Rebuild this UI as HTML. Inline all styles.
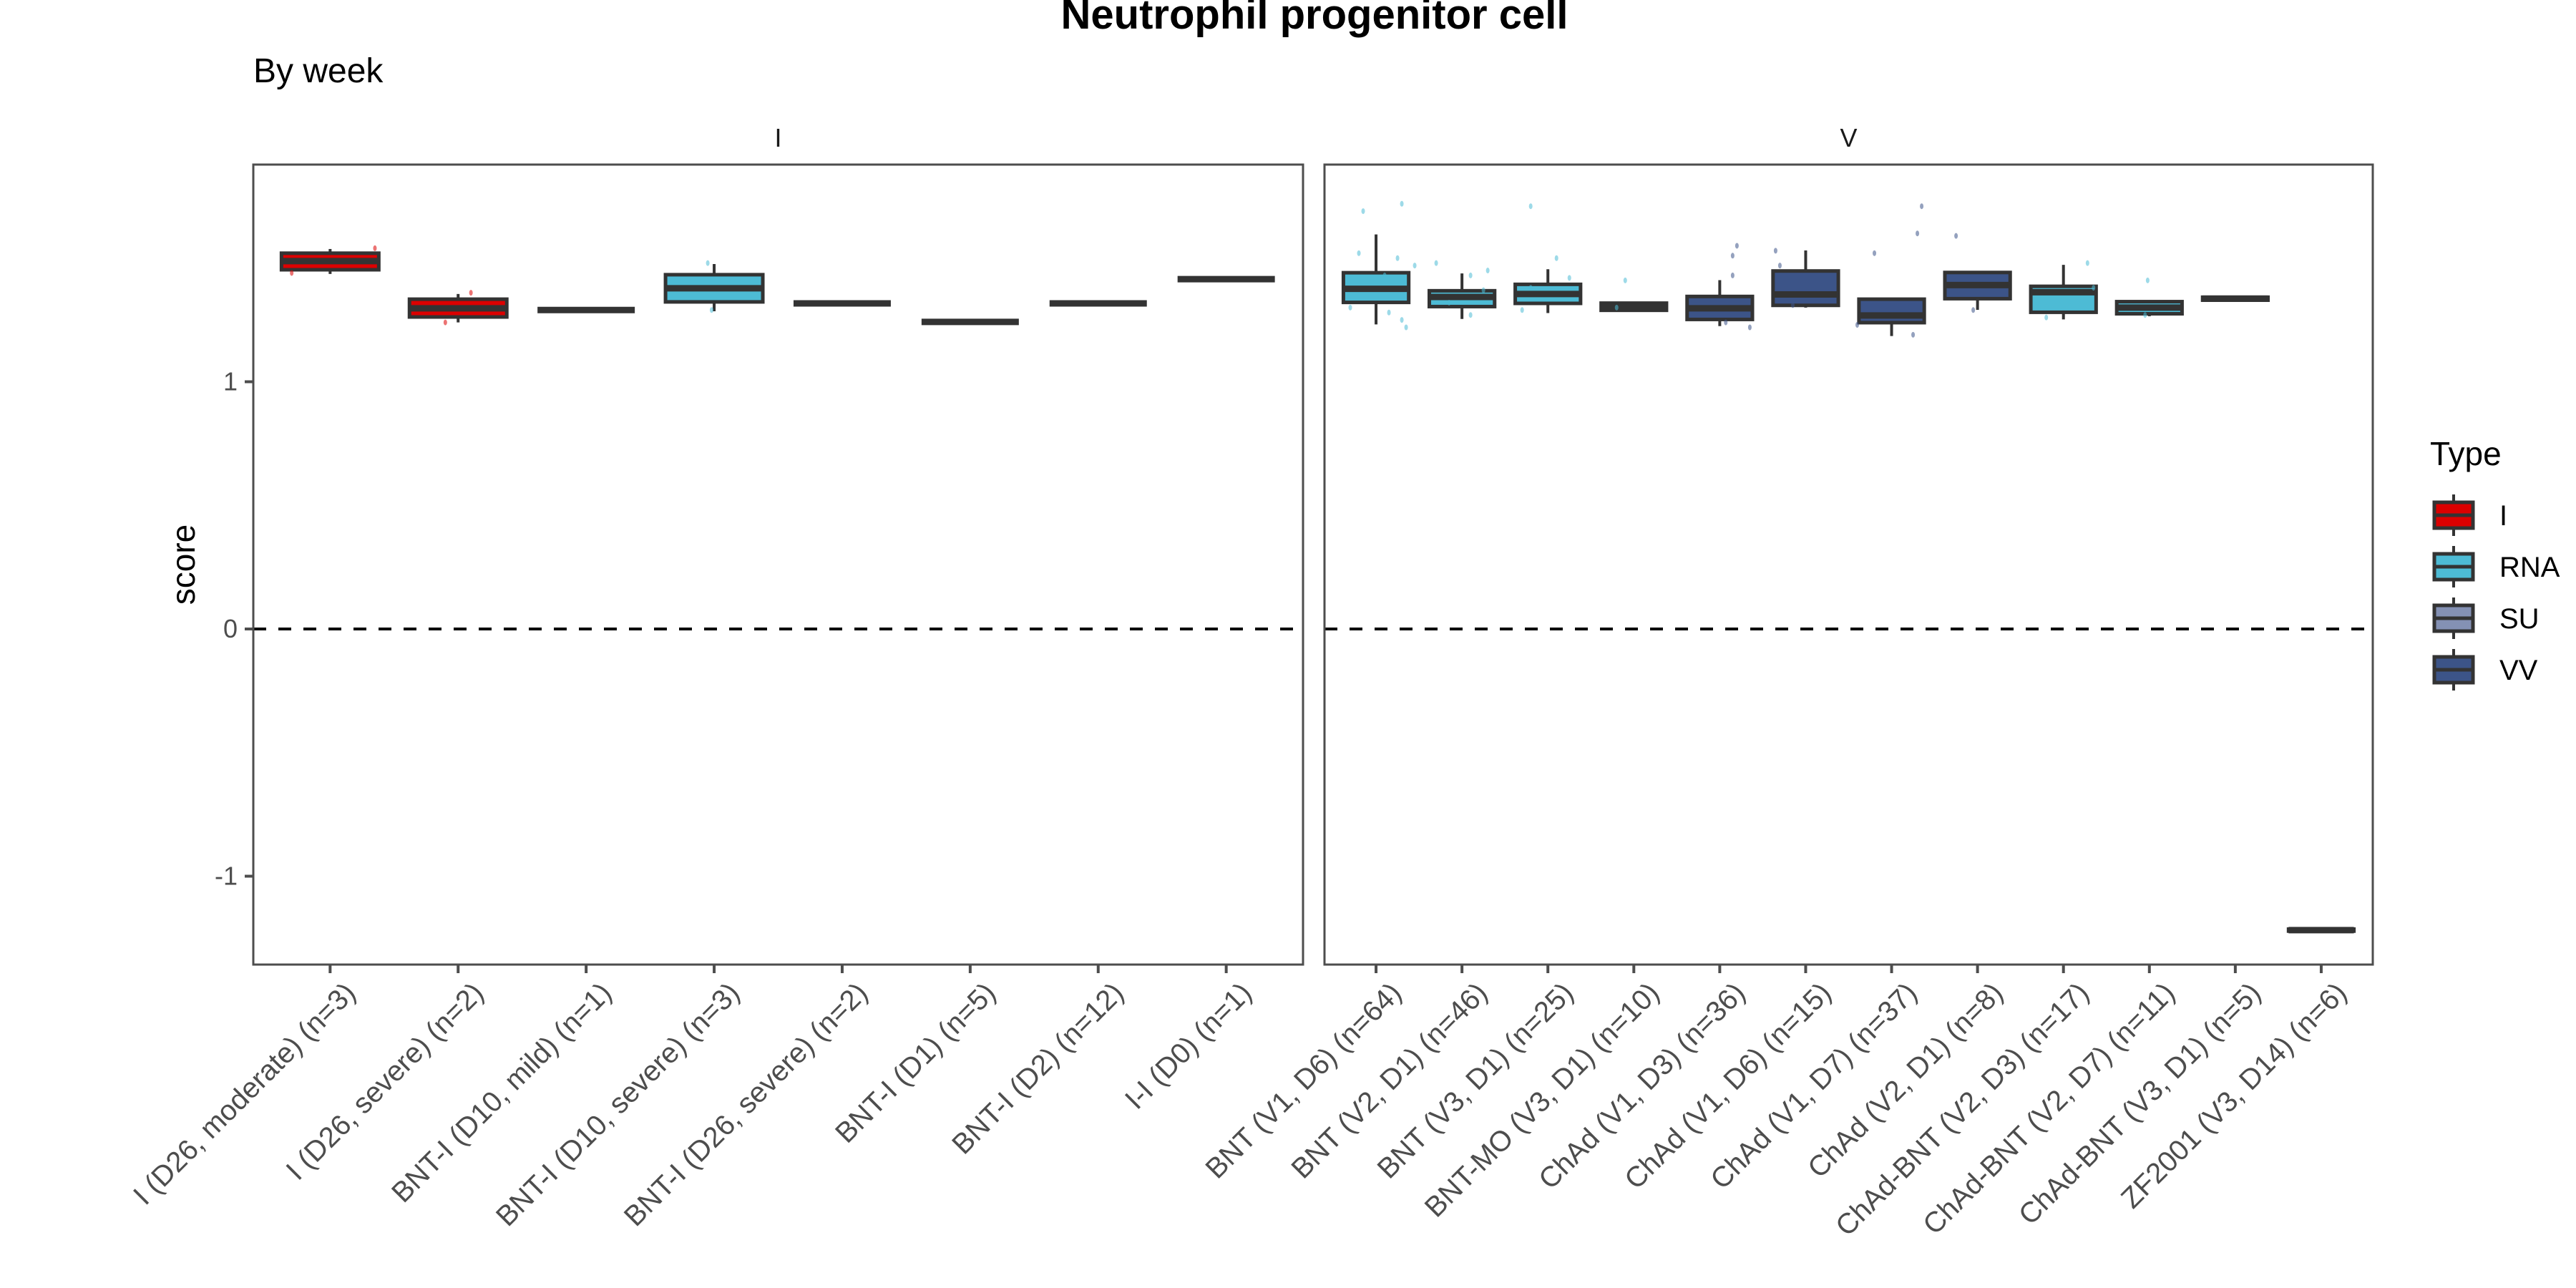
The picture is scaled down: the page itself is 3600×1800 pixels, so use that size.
<!DOCTYPE html>
<html><head><meta charset="utf-8"><style>
html,body{margin:0;padding:0;background:#fff;}
svg{display:block;font-family:"Liberation Sans",sans-serif;}
</style></head><body>
<svg id="chart" width="3600" height="1800" viewBox="0 0 3600 1800" xmlns="http://www.w3.org/2000/svg">
<text x="1837" y="40" font-size="58" font-weight="bold" text-anchor="middle">Neutrophil progenitor cell</text>
<text x="354" y="115" font-size="48">By week</text>
<text transform="translate(272,789) rotate(-90)" font-size="46" text-anchor="middle">score</text>
<g id="plot"></g>
<g id="legend"></g>
</svg>
<script>
const leftCats=["I (D26, moderate) (n=3)","I (D26, severe) (n=2)","BNT-I (D10, mild) (n=1)","BNT-I (D10, severe) (n=3)","BNT-I (D26, severe) (n=2)","BNT-I (D1) (n=5)","BNT-I (D2) (n=12)","I-I (D0) (n=1)"];
const leftTypes=["I","I","I","RNA","I","I","I","I"];
const leftQ1=[1.453,1.262,1.29,1.323,1.317,1.242,1.317,1.415];
const leftMed=[1.488,1.297,1.29,1.378,1.317,1.242,1.317,1.415];
const leftQ3=[1.52,1.334,1.29,1.433,1.317,1.242,1.317,1.415];
const leftLo=[1.436,1.24,1.29,1.285,1.317,1.242,1.317,1.415];
const leftHi=[1.537,1.355,1.29,1.476,1.317,1.242,1.317,1.415];
const rightCats=["BNT (V1, D6) (n=64)","BNT (V2, D1) (n=46)","BNT (V3, D1) (n=25)","BNT-MO (V3, D1) (n=10)","ChAd (V1, D3) (n=36)","ChAd (V1, D6) (n=15)","ChAd (V1, D7) (n=37)","ChAd (V2, D1) (n=8)","ChAd-BNT (V2, D3) (n=17)","ChAd-BNT (V2, D7) (n=11)","ChAd-BNT (V3, D1) (n=5)","ZF2001 (V3, D14) (n=6)"];
const rightTypes=["RNA","RNA","RNA","RNA","VV","VV","VV","VV","RNA","RNA","RNA","SU"];
const rightQ1=[1.321,1.304,1.317,1.289,1.252,1.309,1.239,1.336,1.281,1.275,1.33,-1.222];
const rightMed=[1.376,1.343,1.355,1.303,1.297,1.353,1.268,1.391,1.362,1.3,1.336,-1.218];
const rightQ3=[1.441,1.368,1.394,1.318,1.345,1.448,1.334,1.442,1.386,1.324,1.342,-1.214];
const rightLo=[1.232,1.254,1.278,1.289,1.225,1.3,1.185,1.291,1.252,1.265,1.33,-1.222];
const rightHi=[1.596,1.438,1.455,1.318,1.411,1.531,1.336,1.442,1.473,1.324,1.342,-1.214];
// jitter points: [category index, value, jitter offset in category units]
const leftPts=[[0,1.54,0.35],[0,1.44,-0.3],[1,1.36,0.1],[1,1.24,-0.1],[3,1.48,-0.05],[3,1.29,-0.02]];
const rightPts=[[0,1.69,-0.15],[0,1.72,0.3],[0,1.5,0.25],[0,1.47,0.45],[0,1.52,-0.2],[0,1.43,0.1],[0,1.3,-0.3],[0,1.25,0.3],[0,1.28,0.15],[0,1.22,0.35],[1,1.48,-0.3],[1,1.43,0.1],[1,1.45,0.3],[1,1.32,-0.15],[1,1.27,0.1],[1,1.37,0.25],[2,1.71,-0.2],[2,1.5,0.1],[2,1.38,-0.2],[2,1.29,-0.3],[2,1.42,0.25],[3,1.41,-0.1],[3,1.3,-0.2],[4,1.55,0.2],[4,1.51,0.15],[4,1.43,0.15],[4,1.22,0.35],[4,1.24,0.07],[5,1.53,-0.35],[5,1.47,-0.3],[5,1.31,-0.15],[6,1.71,0.35],[6,1.6,0.3],[6,1.52,-0.2],[6,1.19,0.25],[6,1.23,-0.4],[7,1.59,-0.25],[7,1.29,-0.05],[8,1.48,0.28],[8,1.38,0.35],[8,1.26,-0.2],[9,1.41,-0.02],[9,1.27,-0.05]];
const typeColors={I:"#DC0000",RNA:"#4DBBD5",SU:"#8491B4",VV:"#3C5488"};
const yTicks=[-1,0,1];

const NS="http://www.w3.org/2000/svg";
const plot=document.getElementById('plot');
const top_=230,bot=1348;
function y(v){return 879-v*345.5;}
function mk(tag,attrs,parent){const e=document.createElementNS(NS,tag);for(const k in attrs)e.setAttribute(k,attrs[k]);(parent||plot).appendChild(e);return e;}

function panel(x0,x1,cats,types,q1,med,q3,lo,hi,pts,strip,pname){
  const n=cats.length,unit=(x1-x0)/(n-1+1.2);
  const xs=i=>x0+(0.6+i)*unit;
  const g=mk('g',{});
  
  
  const st=mk('text',{x:(x0+x1)/2,y:205,'font-size':36,'text-anchor':'middle',fill:'#1a1a1a'},g);
  st.textContent=strip;
  
  
  const dl=mk('line',{x1:x0,x2:x1,y1:y(0),y2:y(0),stroke:'#000','stroke-width':4,'stroke-dasharray':'18 17'},g);
  
  
  const bw=unit*0.76;
  for(let i=0;i<n;i++){
    const cx=xs(i),col=typeColors[types[i]];
    const bg=mk('g',{},g);
    
    
    mk('line',{x1:cx,x2:cx,y1:y(hi[i]),y2:y(lo[i]),stroke:'#333','stroke-width':4},bg);
    const h=Math.max(y(q1[i])-y(q3[i]),0);
    mk('rect',{x:cx-bw/2,y:y(q3[i]),width:bw,height:h,fill:h>12?col:'#333',stroke:'#333','stroke-width':5},bg);
    mk('line',{x1:cx-bw/2,x2:cx+bw/2,y1:y(med[i]),y2:y(med[i]),stroke:'#333','stroke-width':9},bg);
    const tk=mk('line',{x1:cx,x2:cx,y1:bot,y2:bot+12,stroke:'#4d4d4d','stroke-width':4},g);
    
    
    const t=mk('text',{transform:`translate(${cx+18},${bot+22}) rotate(-45)`,'font-size':40,'text-anchor':'end',fill:'#4d4d4d',dy:'0.7em'},g);
    t.textContent=cats[i];
    
    
  }
  for(const p of pts){
    const c=mk('ellipse',{cx:xs(p[0])+p[2]*unit,cy:y(p[1]),rx:2.5,ry:4,fill:typeColors[types[p[0]]],opacity:0.55},g);
    
    
  }
  const fr=mk('rect',{x:x0,y:top_,width:x1-x0,height:bot-top_,fill:'none',stroke:'#4d4d4d','stroke-width':3},g);
  
  
}
panel(354,1821,leftCats,leftTypes,leftQ1,leftMed,leftQ3,leftLo,leftHi,leftPts,"I","panel-i");
panel(1851,3316,rightCats,rightTypes,rightQ1,rightMed,rightQ3,rightLo,rightHi,rightPts,"V","panel-v");
for(const v of yTicks){
  const t=mk('text',{x:332,y:y(v)+12,'font-size':36,'text-anchor':'end',fill:'#4d4d4d'});
  t.textContent=v;
  
  
  const l=mk('line',{x1:342,x2:354,y1:y(v),y2:y(v),stroke:'#4d4d4d','stroke-width':4});
  
  
}
const lg=document.getElementById('legend');
const lt=mk('text',{x:3396,y:650,'font-size':46},lg);
lt.textContent='Type';


Object.keys(typeColors).forEach((k,i)=>{
  const cy=720+i*72;
  const e=mk('g',{},lg);
  
  
  mk('line',{x1:3429,x2:3429,y1:cy-29,y2:cy+29,stroke:'#333','stroke-width':4},e);
  mk('rect',{x:3402,y:cy-18,width:54,height:36,fill:typeColors[k],stroke:'#333','stroke-width':5},e);
  mk('line',{x1:3402,x2:3456,y1:cy,y2:cy,stroke:'#333','stroke-width':5},e);
  const t=mk('text',{x:3493,y:cy+14,'font-size':40},e);
  t.textContent=k;
});
</script>
</body></html>
